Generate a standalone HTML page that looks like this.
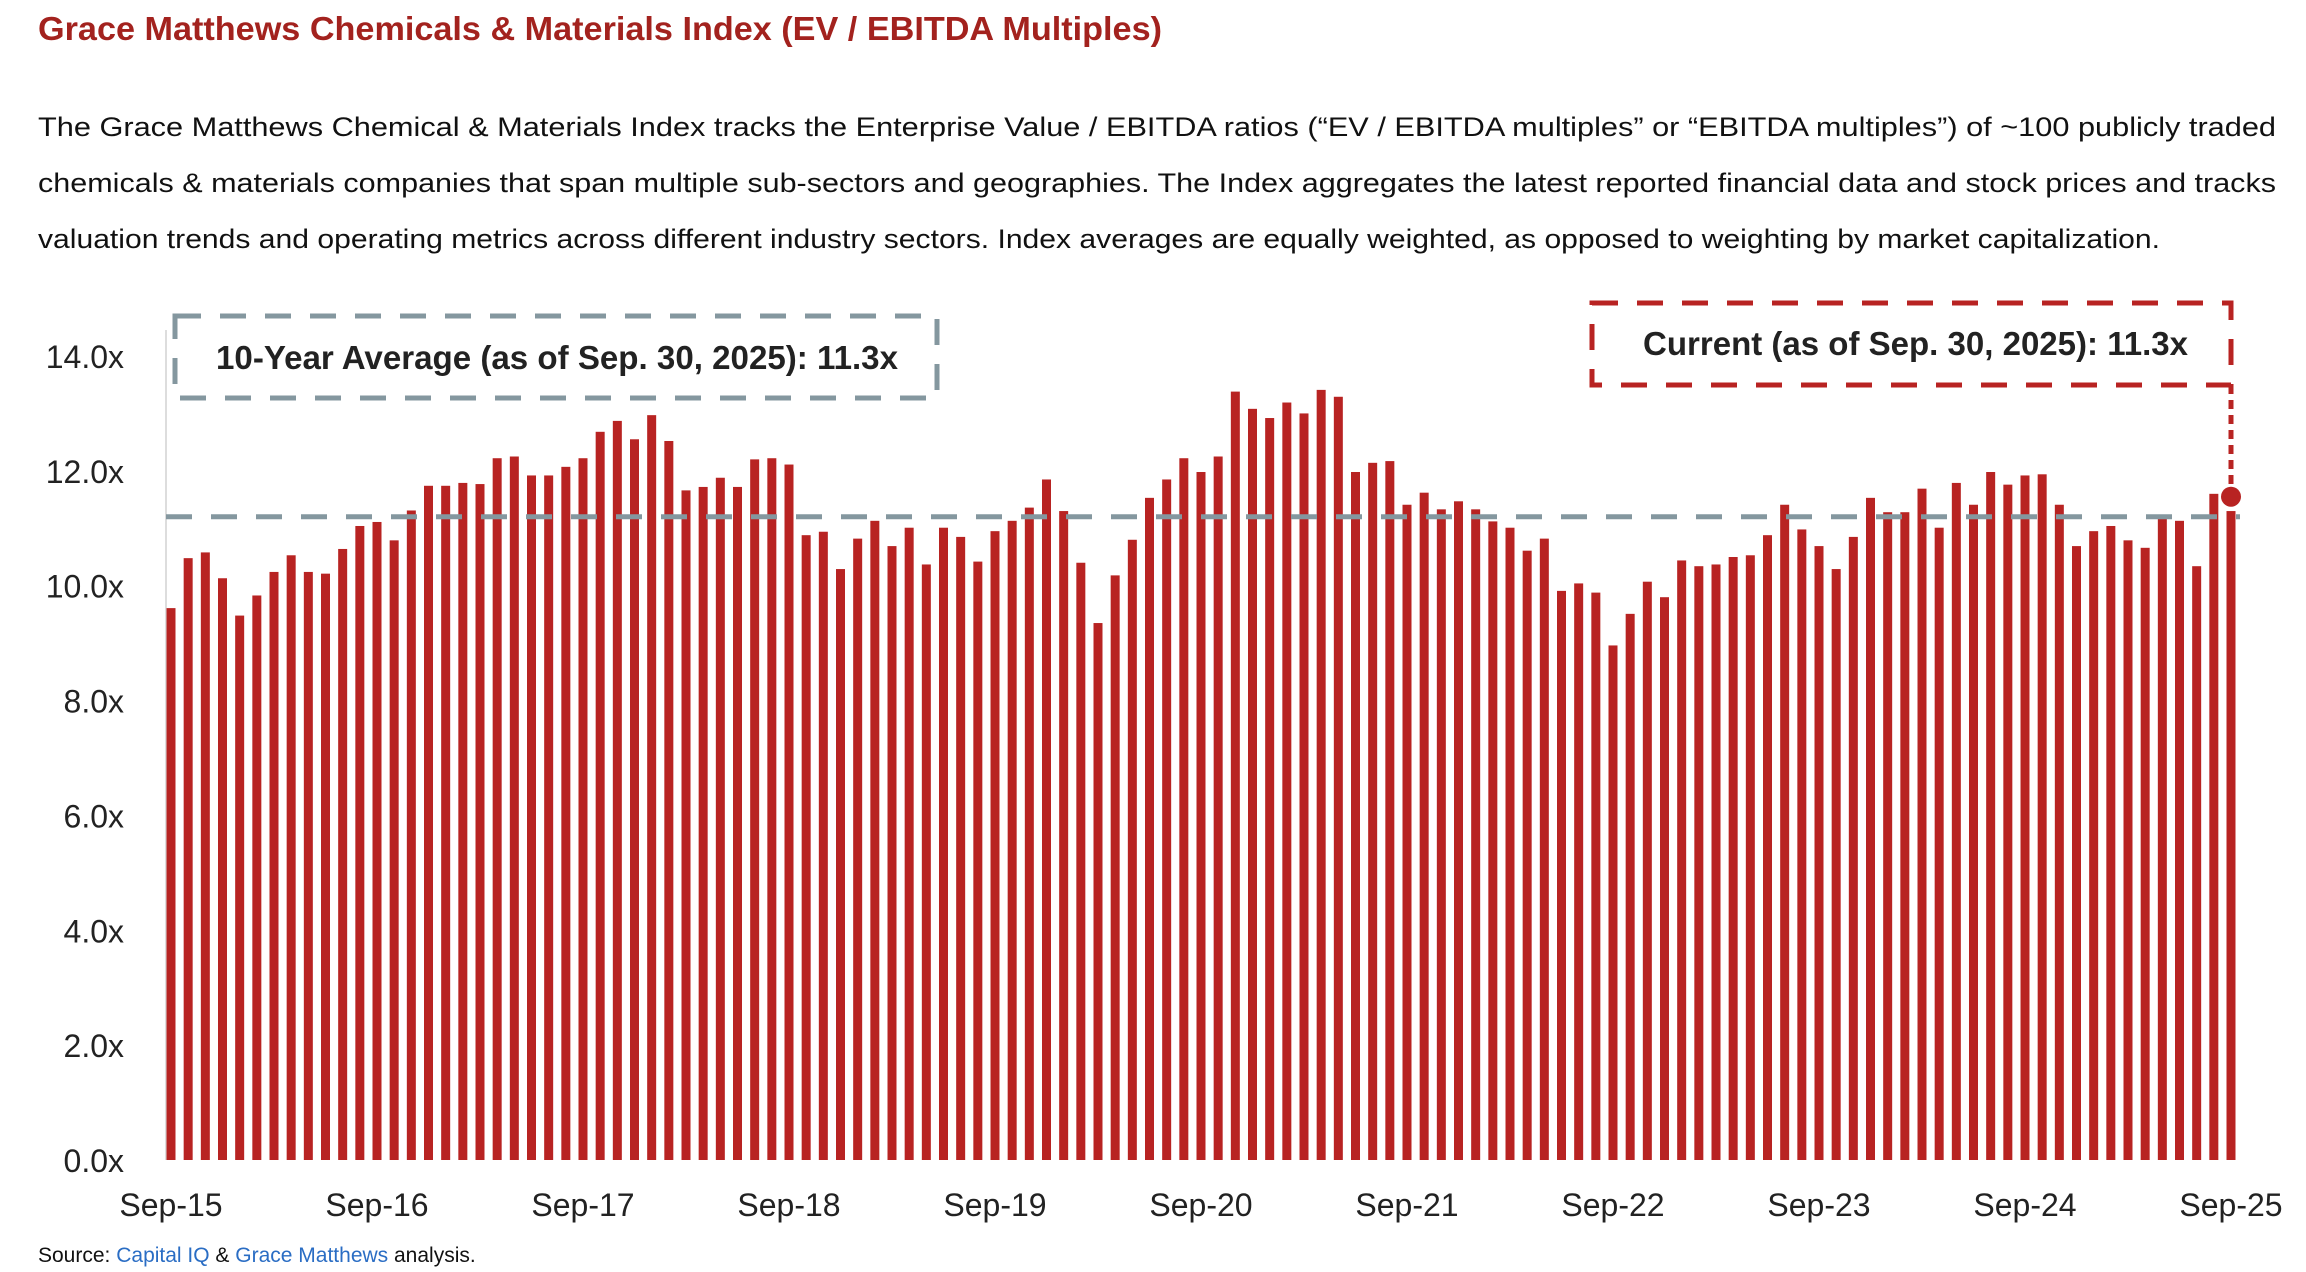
<!DOCTYPE html>
<html><head><meta charset="utf-8"><style>
html,body{margin:0;padding:0;background:#fff;}
svg{display:block;font-family:"Liberation Sans",sans-serif;}
</style></head><body>
<svg id="chart" width="2306" height="1272" viewBox="0 0 2306 1272" xmlns="http://www.w3.org/2000/svg">
<text x="38" y="40" font-size="33" font-weight="bold" fill="#a3221e" textLength="1124" lengthAdjust="spacingAndGlyphs">Grace Matthews Chemicals &amp; Materials Index (EV / EBITDA Multiples)</text>
<g font-size="27" fill="#111">
<text x="38" y="136" textLength="2238" lengthAdjust="spacingAndGlyphs">The Grace Matthews Chemical &amp; Materials Index tracks the Enterprise Value / EBITDA ratios (“EV / EBITDA multiples” or “EBITDA multiples”) of ~100 publicly traded</text>
<text x="38" y="192" textLength="2238" lengthAdjust="spacingAndGlyphs">chemicals &amp; materials companies that span multiple sub-sectors and geographies. The Index aggregates the latest reported financial data and stock prices and tracks</text>
<text x="38" y="248" textLength="2122" lengthAdjust="spacingAndGlyphs">valuation trends and operating metrics across different industry sectors. Index averages are equally weighted, as opposed to weighting by market capitalization.</text>
</g>
<line x1="166" y1="330" x2="166" y2="1160" stroke="#ddd" stroke-width="2"/>
<g id="yticks"></g>
<g id="bars"></g>
<g id="xticks"></g>
<line id="avgline" x1="166" x2="2240" stroke="#84979f" stroke-width="5" stroke-dasharray="26,19"/>
<rect x="175" y="316" width="762" height="82" fill="#fff" stroke="#84979f" stroke-width="5" stroke-dasharray="26,19"/>
<text x="216" y="369" font-size="33" font-weight="bold" fill="#222" textLength="682" lengthAdjust="spacingAndGlyphs">10-Year Average (as of Sep. 30, 2025): 11.3x</text>
<rect x="1592" y="303" width="639" height="82" fill="#fff" stroke="#b82322" stroke-width="5" stroke-dasharray="26,19"/>
<text x="1643" y="355" font-size="33" font-weight="bold" fill="#222" textLength="545" lengthAdjust="spacingAndGlyphs">Current (as of Sep. 30, 2025): 11.3x</text>
<line id="curline" x1="2231" y1="385" x2="2231" stroke="#b82322" stroke-width="5" stroke-dasharray="9,6"/>
<circle id="curdot" cx="2231" r="10" fill="#b82322"/>
<text x="38" y="1262" font-size="21" fill="#111">Source: <tspan fill="#2a6dc4">Capital IQ</tspan> &amp; <tspan fill="#2a6dc4">Grace Matthews</tspan> analysis.</text>
</svg>
<script>
const values = [9.61,10.48,10.58,10.13,9.48,9.83,10.24,10.53,10.24,10.21,10.64,11.04,11.11,10.79,11.31,11.74,11.74,11.79,11.77,12.22,12.25,11.92,11.92,12.07,12.22,12.68,12.87,12.55,12.97,12.52,11.66,11.72,
11.88,11.72,12.20,12.22,12.11,10.88,10.94,10.29,10.82,11.13,10.69,11.01,10.37,11.01,10.85,10.42,10.95,11.13,11.36,11.85,11.30,10.40,9.35,10.18,10.80,11.53,11.85,12.22,11.98,12.25,13.38,13.08,
12.92,13.19,13.00,13.41,13.29,11.98,12.14,12.17,11.41,11.62,11.33,11.47,11.33,11.12,11.01,10.61,10.82,9.91,10.04,9.88,8.96,9.51,10.07,9.80,10.44,10.34,10.37,10.50,10.53,10.88,11.41,10.98,
10.69,10.29,10.85,11.53,11.28,11.28,11.69,11.01,11.79,11.41,11.98,11.76,11.92,11.94,11.41,10.69,10.95,11.04,10.79,10.66,11.17,11.13,10.34,11.60,11.3];
const yTicks = [0,2,4,6,8,10,12,14];
const xLabels = ["Sep-15","Sep-16","Sep-17","Sep-18","Sep-19","Sep-20","Sep-21","Sep-22","Sep-23","Sep-24","Sep-25"];
const avgValue = 11.2;
const currentValue = 11.55;

const NS="http://www.w3.org/2000/svg";
const y0=1160, y14=356, x0=171, x1=2231;
function yScale(v){return y0-(y0-y14)*v/14;}
function xScale(i){return x0+(x1-x0)*i/(values.length-1);}
const barsG=document.getElementById('bars');
values.forEach((v,i)=>{
  const r=document.createElementNS(NS,'rect');
  
  
  r.setAttribute('x',xScale(i)-4.5);r.setAttribute('width',9);
  r.setAttribute('y',yScale(v));r.setAttribute('height',y0-yScale(v));
  r.setAttribute('fill','#b82322');
  barsG.appendChild(r);
});
const yg=document.getElementById('yticks');
yTicks.forEach(t=>{
  const tx=document.createElementNS(NS,'text');
  
  
  tx.setAttribute('x',124);tx.setAttribute('y',yScale(t)+12);
  tx.setAttribute('text-anchor','end');tx.setAttribute('font-size','32');tx.setAttribute('fill','#222');
  tx.textContent=t.toFixed(1)+'x';
  yg.appendChild(tx);
});
const xg=document.getElementById('xticks');
xLabels.forEach((l,k)=>{
  const tx=document.createElementNS(NS,'text');
  
  
  tx.setAttribute('x',xScale(k*12));tx.setAttribute('y',1216);
  tx.setAttribute('text-anchor','middle');tx.setAttribute('font-size','32');tx.setAttribute('fill','#222');
  tx.textContent=l;
  xg.appendChild(tx);
});
const al=document.getElementById('avgline');
al.setAttribute('y1',yScale(avgValue));al.setAttribute('y2',yScale(avgValue));
const cy=yScale(currentValue);
document.getElementById('curline').setAttribute('y2',cy);
document.getElementById('curdot').setAttribute('cy',cy);
document.getElementById('curdot').setAttribute('cx',xScale(values.length-1));
</script>
</body></html>
